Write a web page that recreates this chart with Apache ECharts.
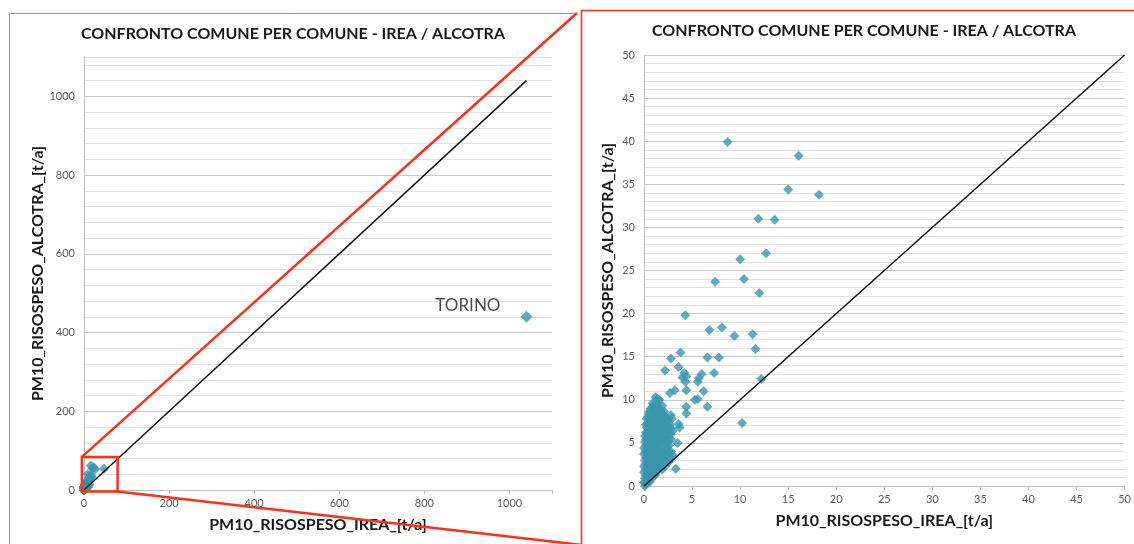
<!DOCTYPE html>
<html><head><meta charset="utf-8">
<script src="https://cdn.jsdelivr.net/npm/echarts@6/dist/echarts.min.js"></script>
<style>html,body{margin:0;padding:0;background:#fff}#c{width:1134px;height:544px}</style>
</head><body><div id="c"></div>
<script>
// ---- texts ----
const TITLE = 'CONFRONTO COMUNE PER COMUNE - IREA / ALCOTRA';
const X_NAME = 'PM10_RISOSPESO_IREA_[t/a]';
const Y_NAME = 'PM10_RISOSPESO_ALCOTRA_[t/a]';
const TORINO_LABEL = 'TORINO';

// ---- data: one entry per comune (x = IREA, y = ALCOTRA), t/a ----
const irea = [
  8.7,16.1,15.0,18.2,11.9,13.6,12.7,10.0,10.4,7.4,12.0,4.3,6.8,8.1,9.4,11.3,11.6,3.8,2.8,6.6,7.8,
  2.2,3.6,4.2,4.4,4.0,4.3,7.3,6.0,5.7,5.6,12.2,2.7,3.2,4.4,6.2,5.3,5.6,4.4,6.6,4.4,10.2,3.7,3.6,3.5,3.3,2.8,2.9,
  1.2,1.6,0.9,1.4,1.9,0.7,1.1,1.7,2.1,0.5,0.9,1.3,1.8,2.3,0.3,0.7,1.1,1.5,2.0,2.5,0.2,0.6,1.0,1.4,1.9,2.3,2.7,
  0.2,0.5,0.9,1.3,1.7,2.1,2.6,3.0,0.1,0.4,0.8,1.2,1.6,2.0,2.4,2.8,0.1,0.5,0.9,1.3,1.7,2.2,2.6,
  0.0,0.3,0.7,1.1,1.5,1.9,2.3,2.8,0.0,0.4,0.8,1.2,1.6,2.0,2.5,3.0,0.1,0.5,0.9,1.3,1.7,2.1,2.6,
  0.0,0.3,0.7,1.1,1.5,1.9,0.0,0.4,0.8,1.2,0.1,0.5,0.9,0.0,0.3,0.6,0.1,
  1.4,1.0,1.5,0.6,1.2,1.6,2.0,0.4,0.8,1.4,1.8,2.2,0.4,0.8,1.3,1.7,2.1,2.5,0.3,0.7,1.1,1.6,2.0,2.4,2.8,
  0.3,0.7,1.1,1.5,1.9,2.3,2.8,0.2,0.6,1.0,1.4,1.9,2.3,2.6,0.2,0.6,1.0,1.4,1.8,2.4,
  0.2,0.6,1.0,1.4,1.8,2.2,2.6,0.2,0.6,1.0,1.5,1.9,2.3,2.8,0.2,0.5,1.0,1.4,1.8,2.2,
  0.2,0.6,1.0,1.4,0.2,0.6,1.0,0.3,0.1,0.2,
  19.5,23.0,47.0,16.0,26.0
];
const alcotra = [
  39.9,38.3,34.4,33.8,31.0,30.9,27.0,26.3,24.0,23.7,22.4,19.8,18.1,18.4,17.4,17.6,15.9,15.5,14.8,14.9,14.9,
  13.4,13.8,13.1,12.7,12.6,12.1,13.1,13.0,12.5,12.1,12.4,10.8,11.1,11.1,11.0,10.0,10.1,9.2,9.2,8.4,7.3,6.8,7.2,5.0,2.0,8.2,7.8,
  10.3,10.0,9.6,9.5,9.3,9.0,8.9,8.8,8.6,8.4,8.2,8.3,8.1,8.0,7.8,7.6,7.7,7.5,7.4,7.6,7.1,7.0,7.2,6.9,7.0,6.8,7.1,
  6.2,6.5,6.4,6.6,6.3,6.5,6.2,6.4,5.8,5.6,5.9,5.5,5.8,5.6,5.7,5.4,5.1,4.9,5.2,4.8,5.0,4.9,4.7,
  4.4,4.2,4.5,4.1,4.3,4.0,4.2,4.0,3.7,3.5,3.8,3.4,3.6,3.3,3.5,3.6,3.0,2.8,3.1,2.7,2.9,2.6,2.8,
  2.3,2.1,2.4,2.0,2.2,1.9,1.6,1.4,1.7,1.3,0.9,0.8,1.0,0.4,0.3,0.5,0.0,
  10.1,9.3,9.1,8.7,8.6,8.5,8.3,8.0,7.9,7.9,7.7,7.7,7.3,7.3,7.2,7.2,7.1,6.9,6.8,6.7,6.8,6.7,6.8,6.6,6.7,
  6.1,6.2,6.1,6.0,6.1,6.0,6.0,5.4,5.3,5.6,5.2,5.3,5.2,5.3,4.7,4.6,4.8,4.6,4.5,4.5,
  4.0,3.9,4.1,3.9,3.8,3.7,3.9,3.3,3.2,3.4,3.1,3.2,3.0,3.2,2.6,2.5,2.6,2.4,2.5,2.3,
  1.9,1.8,1.9,1.7,1.2,1.2,1.3,0.7,0.5,0.2,
  55.0,58.0,54.0,62.0,53.0
];
const torino = [1040, 440];

// ---- axis settings ----
const leftAxis = {min: 0, max: 1100, major: 200, minor: 40};
const rightAxis = {min: 0, max: 50, major: 5, minor: 1};
const diagLeft = [0, 1040];
const diagRight = [0, 50];
const zoomBoxX = [-5, 79];
const zoomBoxY = [-4, 84];

const points = irea.map((x, i) => [x, alcotra[i]]);

const FONT = 'Lato, "Open Sans", sans-serif';
const MARK = '#3896ad';
const RED = '#ff2f1a';
const MAJOR = '#c8c8c8';
const MINOR = '#e1e1e1';
const LABEL = {color: '#595959', fontSize: 11, fontFamily: FONT};
const NAME = {color: '#1a1a1a', fontSize: 16, fontWeight: 'bold', fontFamily: FONT};

function gridColors(ax) {
  const n = Math.round(ax.major / ax.minor);
  const arr = [MAJOR];
  for (let i = 1; i < n; i++) arr.push(MINOR);
  return arr;
}
function fmt(ax) { return v => (Math.abs(v % ax.major) < 1e-9 ? String(v) : ''); }

function xAxisFor(ax, gridIndex) {
  return {
    type: 'value', gridIndex, min: ax.min, max: ax.max, interval: ax.major,
    name: X_NAME, nameLocation: 'middle', nameGap: 27, nameTextStyle: NAME,
    axisLine: {show: true, lineStyle: {color: '#bdbdbd', width: 1}},
    axisTick: {show: true, length: 4, lineStyle: {color: '#bdbdbd'}},
    axisLabel: Object.assign({margin: 8, formatter: fmt(ax)}, LABEL),
    splitLine: {show: false}
  };
}
function yAxisFor(ax, gridIndex, gap) {
  return {
    type: 'value', gridIndex, min: ax.min, max: ax.max, interval: ax.minor,
    name: Y_NAME, nameLocation: 'middle', nameGap: gap, nameTextStyle: NAME,
    axisLine: {show: true, lineStyle: {color: '#bdbdbd', width: 1}},
    axisTick: {show: false},
    axisLabel: Object.assign({margin: 9, formatter: fmt(ax)}, LABEL),
    splitLine: {show: true, lineStyle: {color: gridColors(ax), width: 1}}
  };
}

const chart = echarts.init(document.getElementById('c'), null, {renderer: 'canvas'});
const option = {
  animation: false,
  backgroundColor: '#ffffff',
  grid: [
    {left: 84, right: 582, top: 57, bottom: 54},
    {left: 644, right: 4.5, top: 55, bottom: 58}
  ],
  xAxis: [xAxisFor(leftAxis, 0), xAxisFor(rightAxis, 1)],
  yAxis: [yAxisFor(leftAxis, 0, 38), yAxisFor(rightAxis, 1, 28)],
  series: [
    {type: 'scatter', xAxisIndex: 0, yAxisIndex: 0, data: points, symbol: 'diamond', symbolSize: 10,
     itemStyle: {color: MARK}, z: 2},
    {type: 'scatter', xAxisIndex: 0, yAxisIndex: 0, data: [torino], symbol: 'diamond', symbolSize: 12,
     itemStyle: {color: MARK}, z: 2,
     label: {show: true, position: 'left', distance: 20, offset: [0, -11], formatter: TORINO_LABEL,
             color: '#1a1a1a', fontSize: 17, fontFamily: FONT}},
    {type: 'line', xAxisIndex: 0, yAxisIndex: 0, data: diagLeft.map(v => [v, v]), showSymbol: false,
     lineStyle: {color: '#111', width: 1.5}, z: 3},
    {type: 'scatter', xAxisIndex: 1, yAxisIndex: 1, data: points, symbol: 'diamond', symbolSize: 10,
     itemStyle: {color: MARK}, clip: true, z: 2},
    {type: 'line', xAxisIndex: 1, yAxisIndex: 1, data: diagRight.map(v => [v, v]), showSymbol: false,
     lineStyle: {color: '#111', width: 1.5}, z: 3}
  ]
};
chart.setOption(option);

const tl = chart.convertToPixel({gridIndex: 0}, [zoomBoxX[0], zoomBoxY[1]]);
const br = chart.convertToPixel({gridIndex: 0}, [zoomBoxX[1], zoomBoxY[0]]);
const titleFont = 'bold 16px ' + FONT;
chart.setOption({
  graphic: [
    {type: 'polyline', z: 1, shape: {points: [[9.5, 560], [9.5, 13.5], [577, 13.5]]},
     style: {stroke: '#9a9a9a', lineWidth: 1, fill: null}},
    {type: 'rect', z: 1, shape: {x: 581.5, y: 10.5, width: 600, height: 600},
     style: {stroke: RED, lineWidth: 1.6, fill: null}},
    {type: 'text', z: 10, x: 293, y: 34, style: {text: TITLE, font: titleFont, fill: '#1a1a1a',
     textAlign: 'center', textVerticalAlign: 'middle'}},
    {type: 'text', z: 10, x: 864, y: 31, style: {text: TITLE, font: titleFont, fill: '#1a1a1a',
     textAlign: 'center', textVerticalAlign: 'middle'}},
    {type: 'rect', z: 20, shape: {x: tl[0], y: tl[1], width: br[0] - tl[0], height: br[1] - tl[1]},
     style: {stroke: RED, lineWidth: 2.5, fill: null}},
    {type: 'line', z: 20, shape: {x1: tl[0], y1: tl[1], x2: 577, y2: 13},
     style: {stroke: RED, lineWidth: 2.5}},
    {type: 'line', z: 20, shape: {x1: br[0], y1: br[1], x2: 582, y2: 545},
     style: {stroke: RED, lineWidth: 2.5}}
  ]
});
</script>
</body></html>
